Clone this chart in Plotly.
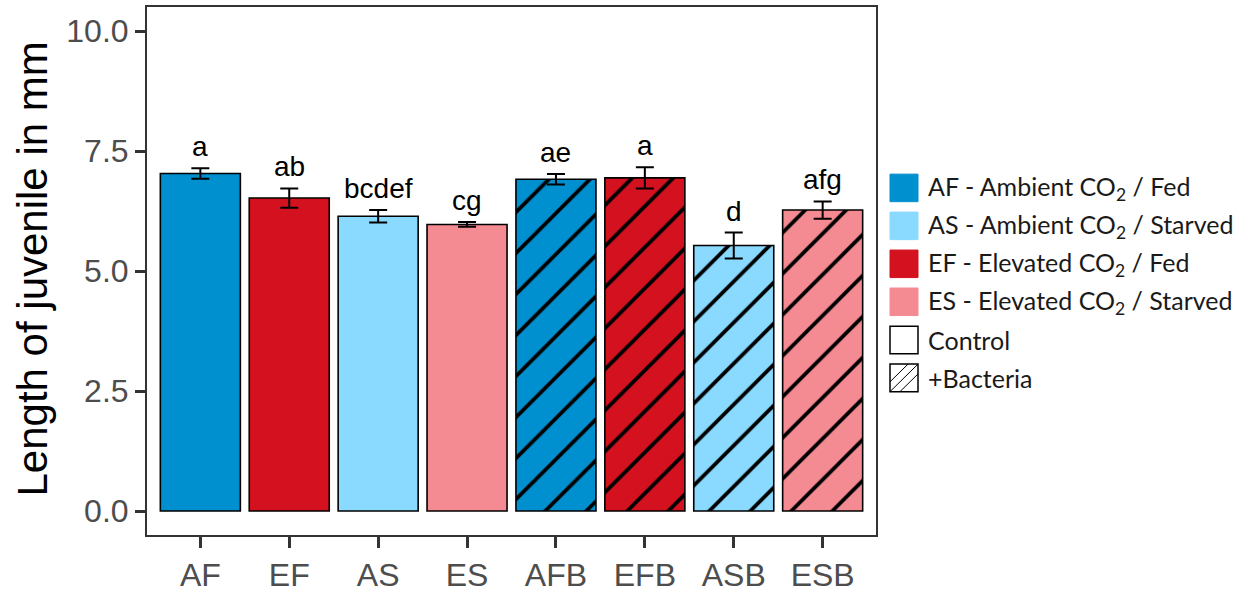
import plotly.graph_objects as go

# ---------------- data ----------------
categories = ["AF", "EF", "AS", "ES", "AFB", "EFB", "ASB", "ESB"]
means = [7.03, 6.52, 6.14, 5.97, 6.91, 6.94, 5.53, 6.27]
ses = [0.11, 0.20, 0.13, 0.05, 0.11, 0.22, 0.27, 0.18]
letters = ["a", "ab", "bcdef", "cg", "ae", "a", "d", "afg"]
treatment = ["AF", "EF", "AS", "ES", "AF", "EF", "AS", "ES"]
bacteria = [False, False, False, False, True, True, True, True]

y_ticks = [0.0, 2.5, 5.0, 7.5, 10.0]
y_tick_labels = ["0.0", "2.5", "5.0", "7.5", "10.0"]

legend_groups = ["AF", "AS", "EF", "ES"]
legend_texts = [
    "AF - Ambient CO<sub>2</sub> / Fed",
    "AS - Ambient CO<sub>2</sub> / Starved",
    "EF - Elevated CO<sub>2</sub> / Fed",
    "ES - Elevated CO<sub>2</sub> / Starved",
]
legend_extra = ["Control", "+Bacteria"]

# ---------------- styles ----------------
colors = {"AF": "#008FCF", "EF": "#D4111E", "AS": "#8AD9FF", "ES": "#F58B92"}

W, H = 1248, 598
L, R, T, B = 147, 876, 5, 542


def px(x):
    return (x - L) / (R - L)


def py(y):
    return (B - y) / (B - T)


fig = go.Figure()
for c, m, s, t, bac in zip(categories, means, ses, treatment, bacteria):
    fig.add_trace(go.Bar(
        x=[c],
        y=[m],
        width=0.9,
        marker=dict(
            color=colors[t],
            line=dict(color="black", width=1.6),
            pattern=dict(
                shape="/" if bac else "",
                fgcolor="black",
                bgcolor=colors[t],
                fgopacity=1,
                size=29,
                solidity=0.13,
                fillmode="replace",
            ),
        ),
        error_y=dict(type="data", array=[s], visible=True, color="black", thickness=2, width=9),
        showlegend=False,
    ))

annotations = []
for c, m, s, lab in zip(categories, means, ses, letters):
    annotations.append(dict(
        x=c, y=m + s, xref="x", yref="y", text=lab, showarrow=False,
        yanchor="bottom", yshift=4,
        font=dict(family="Liberation Sans, Arial", size=28, color="black"),
    ))

# y axis title
annotations.append(dict(
    x=px(33), y=py(272), xref="paper", yref="paper",
    text="Length of juvenile in mm", textangle=-90, showarrow=False,
    xanchor="center", yanchor="middle",
    font=dict(family="Liberation Sans, Arial", size=42, color="black"),
))

# legend (drawn manually)
shapes = []
row_y = [189, 227.6, 266.2, 304.8, 343.6, 382.2]
sw = 28
sx0 = 890
text_x = 926
for i, g in enumerate(legend_groups):
    cy = row_y[i]
    shapes.append(dict(type="rect", xref="paper", yref="paper",
                       x0=px(sx0), x1=px(sx0 + sw), y0=py(cy + sw / 2), y1=py(cy - sw / 2),
                       fillcolor=colors[g], line=dict(color=colors[g], width=1)))
    annotations.append(dict(x=px(text_x), y=py(cy), xref="paper", yref="paper",
                            text=legend_texts[i], showarrow=False,
                            xanchor="left", yanchor="middle",
                            font=dict(family="Lato", size=25, color="#1a1a1a")))

for j, txt in enumerate(legend_extra):
    cy = row_y[4 + j]
    shapes.append(dict(type="rect", xref="paper", yref="paper",
                       x0=px(sx0), x1=px(sx0 + sw), y0=py(cy + sw / 2), y1=py(cy - sw / 2),
                       fillcolor="white", line=dict(color="black", width=1.5)))
    annotations.append(dict(x=px(text_x), y=py(cy), xref="paper", yref="paper",
                            text=txt, showarrow=False,
                            xanchor="left", yanchor="middle",
                            font=dict(family="Lato", size=25, color="#1a1a1a")))

# hatch lines for +Bacteria swatch
cy = row_y[5]
bx0, bx1 = sx0, sx0 + sw
by0, by1 = cy - sw / 2, cy + sw / 2
for d in [-10, 0, 10]:
    if d <= 0:
        xa, ya = bx0, by1 + d
        xb, yb = bx1 + d, by0
    else:
        xa, ya = bx0 + d, by1
        xb, yb = bx1, by0 + d
    shapes.append(dict(type="line", xref="paper", yref="paper",
                       x0=px(xa), y0=py(ya), x1=px(xb), y1=py(yb),
                       line=dict(color="black", width=1)))

fig.update_layout(
    width=W, height=H,
    margin=dict(l=L, r=W - R, t=T, b=H - B),
    paper_bgcolor="white", plot_bgcolor="white",
    barmode="overlay",
    annotations=annotations,
    shapes=shapes,
    xaxis=dict(
        type="category", categoryorder="array", categoryarray=categories,
        range=[-0.6, 7.6],
        showline=True, linecolor="#333333", linewidth=2, mirror=True,
        ticks="outside", ticklen=11, tickwidth=2.5, tickcolor="#333333",
        tickfont=dict(family="Liberation Sans, Arial", size=32, color="#4D4D4D"),
        showgrid=False, zeroline=False,
    ),
    yaxis=dict(
        range=[-0.5, 10.5],
        tickvals=y_ticks, ticktext=y_tick_labels,
        showline=True, linecolor="#333333", linewidth=2, mirror=True,
        ticks="outside", ticklen=10, tickwidth=2.5, tickcolor="#333333",
        tickfont=dict(family="Liberation Sans, Arial", size=32, color="#4D4D4D"),
        showgrid=False, zeroline=False,
    ),
)

fig.write_html("out.html")
